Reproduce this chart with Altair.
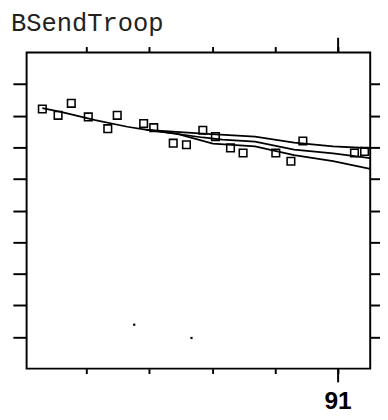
import altair as alt
import pandas as pd

title_text = "BSendTroop"

# observed squares (year, value)
pt_x = [86.30, 86.55, 86.76, 87.03, 87.34, 87.49, 87.91, 88.07, 88.38, 88.59,
        88.85, 89.05, 89.29, 89.49, 90.01, 90.25, 90.44, 91.26, 91.42]
pt_y = [8.21, 8.01, 8.39, 7.96, 7.59, 8.01, 7.75, 7.62, 7.13, 7.08,
        7.54, 7.34, 6.98, 6.82, 6.82, 6.56, 7.20, 6.82, 6.87]

# fitted line and its band
fit_x = [86.30, 86.61, 87.14, 87.65, 87.96, 88.32, 88.85, 89.16, 89.68, 90.30, 90.92, 91.51]
fit_y = [8.24, 8.11, 7.86, 7.65, 7.55, 7.46, 7.31, 7.24, 7.18, 6.93, 6.81, 6.66]
up_x = [87.96, 88.43, 88.85, 89.68, 90.30, 90.92, 91.51]
up_y = [7.55, 7.49, 7.43, 7.34, 7.15, 7.03, 6.97]
lo_x = [87.96, 88.43, 89.01, 89.68, 90.30, 90.92, 91.51]
lo_y = [7.55, 7.43, 7.12, 7.03, 6.75, 6.56, 6.32]

# specks
sp_x = [87.76, 88.67]
sp_y = [1.39, 0.97]

x_ticks = [87, 88, 89, 90, 91]
y_ticks = [1, 2, 3, 4, 5, 6, 7, 8, 9]
x_domain = [86.05, 91.51]
y_domain = [0, 10]
major_year = [91]

W, H = 351, 323

pts = pd.DataFrame({"x": pt_x, "y": pt_y})
lines = pd.concat([
    pd.DataFrame({"x": fit_x, "y": fit_y, "s": "fit"}),
    pd.DataFrame({"x": up_x, "y": up_y, "s": "upper"}),
    pd.DataFrame({"x": lo_x, "y": lo_y, "s": "lower"}),
])
specks = pd.DataFrame({"x": sp_x, "y": sp_y})

xs = alt.Scale(domain=x_domain, nice=False, zero=False)
ys = alt.Scale(domain=y_domain, nice=False, zero=False)

def ax(orient, values, size):
    return alt.Axis(orient=orient, values=values, tickSize=size, tickWidth=2,
                    tickColor="black", domain=False, labels=False, grid=False, title=None)

line_layer = alt.Chart(lines).mark_line(color="black", strokeWidth=1.8, clip=True).encode(
    x=alt.X("x:Q", scale=xs, axis=ax("bottom", x_ticks, 5)),
    y=alt.Y("y:Q", scale=ys, axis=ax("left", y_ticks, 14)),
    detail="s:N",
)

point_layer = alt.Chart(pts).mark_point(shape="square", size=60, filled=False,
                                        color="black", strokeWidth=1.6, opacity=1, clip=True).encode(
    x=alt.X("x:Q", scale=xs, axis=ax("top", x_ticks, 6)),
    y=alt.Y("y:Q", scale=ys, axis=ax("right", y_ticks, 12)),
)

speck_layer = alt.Chart(specks).mark_square(size=5, color="black", opacity=1).encode(
    x=alt.X("x:Q", scale=xs, axis=None),
    y=alt.Y("y:Q", scale=ys, axis=None),
)

yr = pd.DataFrame({"x": major_year, "lab": [str(v) for v in major_year]})
top_major = alt.Chart(yr).mark_rule(color="black", strokeWidth=2).encode(
    x=alt.X("x:Q", scale=xs, axis=None), y=alt.value(-15), y2=alt.value(0))
bot_major = alt.Chart(yr).mark_rule(color="black", strokeWidth=2).encode(
    x=alt.X("x:Q", scale=xs, axis=None), y=alt.value(H), y2=alt.value(H + 14))
major_label = alt.Chart(yr).mark_text(font="Liberation Sans", fontSize=25,
                                      fontWeight="bold", baseline="alphabetic",
                                      align="center", color="black").encode(
    x=alt.X("x:Q", scale=xs, axis=None), y=alt.value(H + 41), text="lab:N")

title_layer = alt.Chart(pd.DataFrame({"t": [title_text]})).mark_text(
    font="Liberation Mono", fontSize=26, align="left", baseline="alphabetic",
    color="#222222").encode(x=alt.value(-16), y=alt.value(-22), text="t:N")

chart = alt.layer(line_layer, point_layer, speck_layer, top_major, bot_major,
                  major_label, title_layer).resolve_axis(
    x="independent", y="independent"
).properties(
    width=W, height=H,
    autosize=alt.AutoSizeParams(type="none"),
    padding={"left": 19, "top": 41, "right": 10, "bottom": 45},
    background="white",
).configure_view(stroke="black", strokeWidth=2)

chart.save("out.html", embed_options={"renderer": "svg", "actions": False})
